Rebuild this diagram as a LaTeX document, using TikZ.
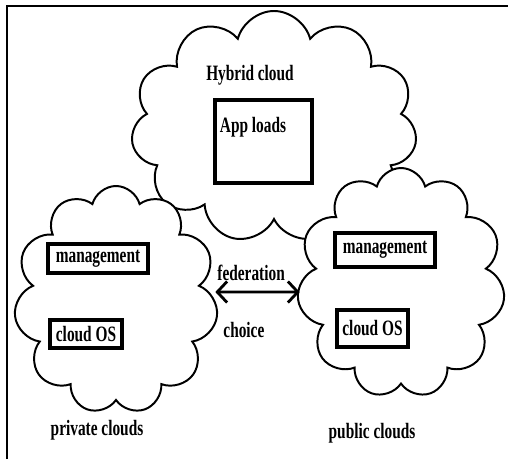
\documentclass[tikz,border=0pt]{standalone}
\usepackage{fontspec}
\setmainfont[FakeStretch=0.7]{Liberation Serif}
\usepackage{tikz}
\usetikzlibrary{
  shapes.symbols,
  arrows.meta
}

\begin{document}
\begin{tikzpicture}[%スタイル設定
          cloudshape/.style={
              draw,
              fill=white,
              line width=1.4pt,
              cloud,
              cloud puffs=#1,
              cloud ignores aspect
            },box/.style={
              draw,
              line width=2.2pt,
              inner sep=0pt
            },txt/.style={
              font=\fontsize{15.6}{18}\selectfont\bfseries
            },barb/.style={
              line width=2pt,
              {Straight Barb[length=7pt,width=15pt]}-{Straight Barb[length=7pt,width=15pt]}
            }
          ,cloudshape/.default=11
        ]

        % 外枠
        \useasboundingbox (0,0) rectangle (12.7,11.475);
        \draw[line width=2pt] (0.175,0) -- (0.175,11.325) -- (12.7,11.325);

        % 雲の描画
        \node[
          cloudshape,
          minimum width=7.15cm,
          minimum height=5.8cm
        ] (hybrid) at (6.85,8.3) {};
        \node[
          cloudshape,
          minimum width=5.1cm,
          minimum height=5.7cm
        ] (private) at (2.9,3.975) {};
        \node[
          cloudshape,
          minimum width=5.2cm,
          minimum height=5.75cm
        ] (public) at (10.025,4.4) {};

        % ハイブリッドクラウド
        \node[txt] (hybridname) at (6.25,9.6) {Hybrid cloud};
        \node[
          box,
          minimum width=2.425cm,
          minimum height=2.075cm
        ] (appbox) at (6.5875,7.9375) {};
        \node[txt] (apploads) at (6.325,8.3) {App loads};

        % プライベートクラウド
        \node[box,txt,minimum width=2.5cm,minimum height=0.725cm] (privmgmt) at (2.45,5.0125) {management};
        \node[box,txt,minimum width=1.8cm,minimum height=0.7cm] (privos) at (2.15,3.125) {cloud OS};
        \node[txt] (privname) at (2.425,0.725) {private clouds};

        % パブリッククラウド
        \node[box,txt,minimum width=2.5cm,minimum height=0.85cm] (pubmgmt) at (9.625,5.225) {management};
        \node[box,txt,minimum width=1.775cm,minimum height=0.925cm] (pubos) at (9.3125,3.2625) {cloud OS};
        \node[txt] (pubname) at (9.3,0.65) {public clouds};

        % 連携の矢印
        \draw[barb] ([yshift=0.2cm]private.east) -- node[txt,xshift=-0.16cm,yshift=0.475cm] (fedname) {federation}
          node[txt,xshift=-0.34cm,yshift=-0.95cm] (choicename) {choice} ([yshift=-0.225cm]public.west);

      \end{tikzpicture}
\end{document}
